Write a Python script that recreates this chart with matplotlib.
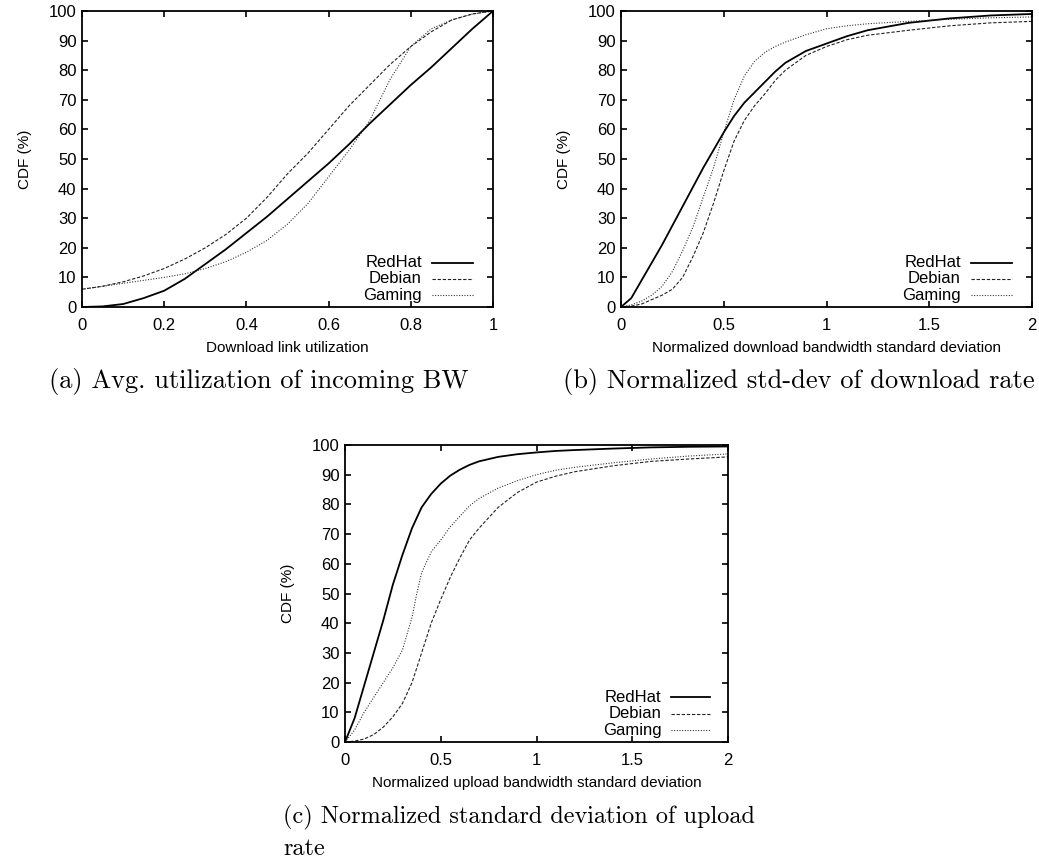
import matplotlib as mpl
mpl.use('Agg')
import matplotlib.pyplot as plt
import numpy as np

plt.rcParams['font.family'] = ['Liberation Sans', 'DejaVu Sans']

# (a) download link utilization
a_x = [0, 0.05, 0.1, 0.15, 0.2, 0.25, 0.3, 0.35, 0.4, 0.45, 0.5, 0.55, 0.6,
       0.65, 0.7, 0.75, 0.8, 0.85, 0.9, 0.95, 1.0]
a_redhat = [0, 0.2, 1, 3, 5.5, 9.5, 14.5, 19.5, 25, 30.5, 36.5, 42.5, 48.5,
            55, 62, 68.5, 75, 81, 87.5, 94, 100]
a_debian = [6, 7, 8.5, 10.5, 13, 16.2, 20, 24.5, 30, 37, 45, 52, 60,
            68, 75, 82, 88, 93, 97, 99, 100]
a_gaming = [6, 7, 8, 9, 10, 11.2, 13, 15.3, 18.5, 22.5, 28, 35, 44,
            53, 63, 77, 88, 94, 97, 99, 100]

# (b) normalized download bandwidth std-dev
b_x = [0, 0.05, 0.1, 0.15, 0.2, 0.25, 0.3, 0.35, 0.4, 0.45, 0.5, 0.55, 0.6,
       0.65, 0.7, 0.75, 0.8, 0.9, 1.0, 1.1, 1.2, 1.4, 1.6, 1.8, 2.0]
b_redhat = [0, 3, 9, 15, 21, 27.5, 34, 40.5, 47, 53, 59, 64.5, 69,
            72.5, 76, 79.5, 82.5, 86.5, 89, 91.5, 93.5, 96, 97.5, 98.5, 99]
b_debian = [0, 0.3, 1, 2.5, 4, 6, 10, 17, 25, 35, 46, 56, 63,
            68, 72, 76.5, 80, 85, 88, 90.3, 91.8, 93.5, 95, 96, 96.5]
b_gaming = [0, 0.7, 2, 4, 7, 12, 19, 27, 37, 47, 59, 70, 78,
            83, 86, 88, 89.5, 92, 94, 95, 95.7, 96.5, 97.2, 97.7, 98]

# (c) normalized upload bandwidth std-dev
c_x = [0, 0.05, 0.1, 0.15, 0.2, 0.25, 0.3, 0.35, 0.375, 0.4, 0.45, 0.5, 0.55,
       0.6, 0.65, 0.7, 0.8, 0.9, 1.0, 1.1, 1.2, 1.4, 1.6, 1.8, 2.0]
c_redhat = [0, 8, 19, 30, 41, 53, 63, 72, 75.5, 79, 83.5, 87, 89.7,
            91.7, 93.3, 94.5, 96, 96.9, 97.5, 98, 98.3, 98.8, 99.2, 99.4, 99.5]
c_debian = [0, 0.3, 1, 2.5, 5, 8.5, 13, 20, 25, 30, 40, 48, 55.5,
            62, 68, 72, 79, 84, 87.5, 89.5, 91, 93, 94.5, 95.3, 96]
c_gaming = [0, 4, 10, 15, 20, 25, 31, 42, 50, 57, 64, 68, 72.5,
            76, 79.5, 82, 85.5, 88, 90, 91.5, 92.5, 94, 95.3, 96.3, 97]

names = ['RedHat', 'Debian', 'Gaming']
styles = [dict(color='black', lw=1.3, ls='-'),
          dict(color='#222222', lw=0.8, dashes=(3, 1.6)),
          dict(color='#222222', lw=0.8, dashes=(0.9, 1.5))]

W, H = 1039, 861
fig = plt.figure(figsize=(W / 100, H / 100), dpi=100)


def make_axes(left, top, right, bottom):
  return fig.add_axes([left / W, 1 - bottom / H, (right - left) / W, (bottom - top) / H])


def draw_panel(ax, x, series, xmax, xticks, xticklabels, xlabel):
  for ys, st in zip(series, styles):
    ax.plot(x, ys, **st)
  ax.set_xlim(0, xmax)
  ax.set_ylim(0, 100)
  ax.set_xticks(xticks)
  ax.set_xticklabels(xticklabels)
  ax.set_yticks(np.arange(0, 101, 10))
  ax.tick_params(direction='in', length=4, width=1.2, top=True, right=True,
                 labelsize=12)
  ax.tick_params(axis='x', pad=8)
  ax.tick_params(axis='y', pad=4)
  for s in ax.spines.values():
    s.set_linewidth(1.3)
  ax.set_xlabel(xlabel, fontsize=11, labelpad=6)
  ax.set_ylabel('CDF (%)', fontsize=11, labelpad=12)
  # key, right aligned text followed by line sample
  for i, (name, st) in enumerate(zip(names, styles)):
    yy = 0.15 - 0.055 * i
    ax.text(0.827, yy, name, transform=ax.transAxes, ha='right', va='center', fontsize=12)
    ax.plot([0.852, 0.952], [yy, yy], transform=ax.transAxes, **st)


ax_a = make_axes(82, 11, 493, 307)
draw_panel(ax_a, a_x, [a_redhat, a_debian, a_gaming], 1,
           [0, 0.2, 0.4, 0.6, 0.8, 1], ['0', '0.2', '0.4', '0.6', '0.8', '1'],
           'Download link utilization')

ax_b = make_axes(621, 11, 1032, 307)
draw_panel(ax_b, b_x, [b_redhat, b_debian, b_gaming], 2,
           [0, 0.5, 1, 1.5, 2], ['0', '0.5', '1', '1.5', '2'],
           'Normalized download bandwidth standard deviation')

ax_c = make_axes(345, 445, 728, 742)
draw_panel(ax_c, c_x, [c_redhat, c_debian, c_gaming], 2,
           [0, 0.5, 1, 1.5, 2], ['0', '0.5', '1', '1.5', '2'],
           'Normalized upload bandwidth standard deviation')

cap = dict(family='cmr10', fontsize=19, va='baseline', ha='left')
fig.text(49 / W, 1 - 388 / H, '(a) Avg. utilization of incoming BW', **cap)
fig.text(563 / W, 1 - 388 / H, '(b) Normalized std-dev of download rate', **cap)
cap['fontsize'] = 17.5
fig.text(283 / W, 1 - 823 / H, '(c) Normalized standard deviation of upload', **cap)
fig.text(283 / W, 1 - 855 / H, 'rate', **cap)

fig.savefig('out.png', dpi=100)
